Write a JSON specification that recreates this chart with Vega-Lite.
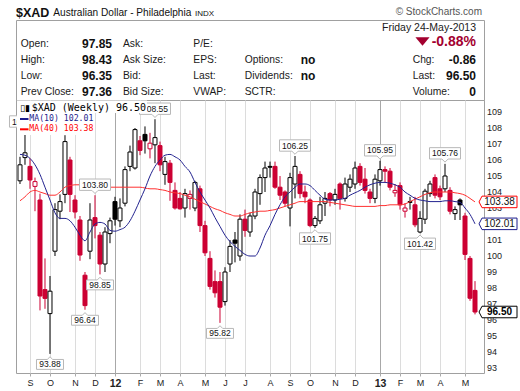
{
  "$schema": "https://vega.github.io/schema/vega-lite/v6.json",
  "autosize": {"type": "pad"},
  "padding": {"left": 6, "top": 0, "right": 0, "bottom": 0},
  "background": "white",
  "spacing": 0,
  "bounds": "flush",
  "config": {"view": {"stroke": "#a0a0a0"}, "font": "Liberation Sans", "axis": {"labelFont": "Liberation Sans"}},
  "datasets": {
    "xad": [
      {"date":"2011-08-22","open":104.7,"high":106.2,"low":104.5,"close":105.7,"ma10":106.35,"ma40":103.45},
      {"date":"2011-08-29","open":106.15,"high":107.75,"low":105.7,"close":106.45,"ma10":106.3,"ma40":103.7},
      {"date":"2011-09-05","open":105.6,"high":106.1,"low":104.2,"close":104.75,"ma10":106.1,"ma40":104.0},
      {"date":"2011-09-12","open":104.35,"high":104.9,"low":102.8,"close":104.65,"ma10":105.7,"ma40":104.1},
      {"date":"2011-09-19","open":103.5,"high":103.9,"low":96.6,"close":97.5,"ma10":105.1,"ma40":104.0},
      {"date":"2011-09-26","open":97.9,"high":99.85,"low":96.7,"close":97.35,"ma10":104.3,"ma40":103.9},
      {"date":"2011-10-03","open":96.4,"high":98.75,"low":93.88,"close":97.8,"ma10":103.5,"ma40":103.8},
      {"date":"2011-10-10","open":100.3,"high":103.3,"low":100.0,"close":102.9,"ma10":102.7,"ma40":103.8},
      {"date":"2011-10-17","open":102.8,"high":103.85,"low":102.3,"close":103.4,"ma10":102.35,"ma40":104.0},
      {"date":"2011-10-24","open":103.85,"high":107.55,"low":103.3,"close":107.15,"ma10":102.35,"ma40":104.3},
      {"date":"2011-10-31","open":106.0,"high":106.2,"low":102.75,"close":103.85,"ma10":102.2,"ma40":104.4},
      {"date":"2011-11-07","open":103.5,"high":103.8,"low":102.35,"close":102.75,"ma10":101.8,"ma40":104.45},
      {"date":"2011-11-14","open":102.25,"high":102.5,"low":99.7,"close":100.06,"ma10":101.3,"ma40":104.45},
      {"date":"2011-11-21","open":98.8,"high":99.0,"low":96.64,"close":96.9,"ma10":100.95,"ma40":104.4},
      {"date":"2011-11-28","open":100.3,"high":103.3,"low":99.8,"close":102.25,"ma10":101.5,"ma40":104.4},
      {"date":"2011-12-05","open":102.4,"high":103.8,"low":101.1,"close":101.9,"ma10":102.0,"ma40":104.35},
      {"date":"2011-12-12","open":101.3,"high":101.5,"low":98.85,"close":99.5,"ma10":102.1,"ma40":104.3},
      {"date":"2011-12-19","open":99.5,"high":101.8,"low":99.0,"close":101.5,"ma10":102.0,"ma40":104.3},
      {"date":"2011-12-26","open":101.4,"high":102.4,"low":100.8,"close":102.2,"ma10":101.6,"ma40":104.3},
      {"date":"2012-01-02","open":103.4,"high":103.7,"low":101.9,"close":102.3,"ma10":101.55,"ma40":104.3},
      {"date":"2012-01-09","open":102.2,"high":103.6,"low":101.8,"close":103.0,"ma10":101.65,"ma40":104.3},
      {"date":"2012-01-16","open":103.3,"high":105.6,"low":103.1,"close":105.4,"ma10":101.8,"ma40":104.3},
      {"date":"2012-01-23","open":105.6,"high":106.9,"low":105.3,"close":106.5,"ma10":102.2,"ma40":104.3},
      {"date":"2012-01-30","open":105.5,"high":108.0,"low":105.4,"close":107.9,"ma10":102.8,"ma40":104.3},
      {"date":"2012-02-06","open":107.2,"high":107.5,"low":106.3,"close":106.6,"ma10":103.5,"ma40":104.3},
      {"date":"2012-02-13","open":107.6,"high":108.1,"low":106.4,"close":107.2,"ma10":104.2,"ma40":104.25},
      {"date":"2012-02-20","open":106.7,"high":107.7,"low":106.1,"close":107.05,"ma10":105.0,"ma40":104.2},
      {"date":"2012-02-27","open":106.95,"high":108.55,"low":105.8,"close":107.4,"ma10":105.6,"ma40":104.2},
      {"date":"2012-03-05","open":106.9,"high":107.15,"low":105.3,"close":105.7,"ma10":106.0,"ma40":104.15},
      {"date":"2012-03-12","open":105.1,"high":106.2,"low":104.45,"close":105.9,"ma10":106.3,"ma40":104.1},
      {"date":"2012-03-19","open":105.8,"high":106.0,"low":103.45,"close":104.6,"ma10":106.35,"ma40":104.0},
      {"date":"2012-03-26","open":104.1,"high":104.6,"low":102.9,"close":103.0,"ma10":106.2,"ma40":103.95},
      {"date":"2012-04-02","open":103.6,"high":104.0,"low":102.9,"close":102.95,"ma10":106.0,"ma40":103.9},
      {"date":"2012-04-09","open":103.0,"high":104.2,"low":102.4,"close":103.9,"ma10":105.6,"ma40":103.8},
      {"date":"2012-04-16","open":103.6,"high":104.1,"low":102.9,"close":103.85,"ma10":105.25,"ma40":103.7},
      {"date":"2012-04-23","open":103.0,"high":104.7,"low":102.8,"close":104.6,"ma10":104.6,"ma40":103.55},
      {"date":"2012-04-30","open":104.2,"high":104.4,"low":101.5,"close":101.9,"ma10":104.0,"ma40":103.4},
      {"date":"2012-05-07","open":101.9,"high":102.2,"low":100.0,"close":100.2,"ma10":103.5,"ma40":103.25},
      {"date":"2012-05-14","open":99.85,"high":100.3,"low":97.9,"close":98.1,"ma10":103.0,"ma40":103.1},
      {"date":"2012-05-21","open":98.4,"high":99.1,"low":97.4,"close":97.7,"ma10":102.4,"ma40":102.95},
      {"date":"2012-05-28","open":98.4,"high":99.0,"low":95.82,"close":96.8,"ma10":101.85,"ma40":102.85},
      {"date":"2012-06-04","open":97.15,"high":99.3,"low":96.9,"close":99.0,"ma10":101.3,"ma40":102.7},
      {"date":"2012-06-11","open":99.5,"high":101.0,"low":99.0,"close":100.6,"ma10":100.9,"ma40":102.6},
      {"date":"2012-06-18","open":101.0,"high":101.5,"low":99.6,"close":100.8,"ma10":100.6,"ma40":102.5},
      {"date":"2012-06-25","open":100.0,"high":102.6,"low":99.7,"close":102.3,"ma10":100.35,"ma40":102.5},
      {"date":"2012-07-02","open":102.3,"high":102.9,"low":101.2,"close":101.6,"ma10":100.1,"ma40":102.6},
      {"date":"2012-07-09","open":101.5,"high":102.7,"low":101.2,"close":102.5,"ma10":100.0,"ma40":102.7},
      {"date":"2012-07-16","open":102.5,"high":104.2,"low":102.3,"close":104.0,"ma10":100.0,"ma40":102.75},
      {"date":"2012-07-23","open":103.9,"high":105.1,"low":103.2,"close":104.9,"ma10":100.5,"ma40":102.8},
      {"date":"2012-07-30","open":104.9,"high":105.9,"low":104.0,"close":105.5,"ma10":101.3,"ma40":102.8},
      {"date":"2012-08-06","open":105.6,"high":105.9,"low":104.9,"close":105.55,"ma10":101.9,"ma40":102.85},
      {"date":"2012-08-13","open":105.6,"high":105.9,"low":104.2,"close":104.3,"ma10":102.6,"ma40":102.9},
      {"date":"2012-08-20","open":104.3,"high":105.0,"low":103.5,"close":103.8,"ma10":103.2,"ma40":103.0},
      {"date":"2012-08-27","open":104.0,"high":104.1,"low":103.1,"close":103.3,"ma10":103.7,"ma40":103.1},
      {"date":"2012-09-03","open":103.0,"high":105.2,"low":101.85,"close":104.9,"ma10":104.0,"ma40":103.2},
      {"date":"2012-09-10","open":104.5,"high":106.25,"low":103.6,"close":105.6,"ma10":104.3,"ma40":103.3},
      {"date":"2012-09-17","open":105.1,"high":105.3,"low":103.6,"close":103.9,"ma10":104.5,"ma40":103.4},
      {"date":"2012-09-24","open":104.0,"high":104.4,"low":103.3,"close":103.7,"ma10":104.5,"ma40":103.4},
      {"date":"2012-10-01","open":103.5,"high":103.6,"low":101.8,"close":101.9,"ma10":104.4,"ma40":103.4},
      {"date":"2012-10-08","open":101.9,"high":102.5,"low":101.75,"close":102.35,"ma10":104.1,"ma40":103.4},
      {"date":"2012-10-15","open":102.2,"high":103.7,"low":102.0,"close":103.2,"ma10":103.8,"ma40":103.4},
      {"date":"2012-10-22","open":103.3,"high":104.0,"low":102.5,"close":103.6,"ma10":103.55,"ma40":103.4},
      {"date":"2012-10-29","open":103.9,"high":104.0,"low":103.1,"close":103.5,"ma10":103.5,"ma40":103.35},
      {"date":"2012-11-05","open":103.5,"high":104.2,"low":103.2,"close":103.85,"ma10":103.5,"ma40":103.3},
      {"date":"2012-11-12","open":104.5,"high":104.6,"low":102.9,"close":103.6,"ma10":103.55,"ma40":103.25},
      {"date":"2012-11-19","open":103.6,"high":104.9,"low":103.4,"close":104.5,"ma10":103.6,"ma40":103.2},
      {"date":"2012-11-26","open":104.3,"high":105.1,"low":104.0,"close":104.8,"ma10":103.8,"ma40":103.15},
      {"date":"2012-12-03","open":104.5,"high":105.9,"low":104.2,"close":105.5,"ma10":103.95,"ma40":103.1},
      {"date":"2012-12-10","open":105.6,"high":105.8,"low":104.4,"close":104.6,"ma10":104.1,"ma40":103.1},
      {"date":"2012-12-17","open":104.8,"high":105.5,"low":103.9,"close":104.1,"ma10":104.3,"ma40":103.1},
      {"date":"2012-12-24","open":104.0,"high":104.2,"low":103.3,"close":103.6,"ma10":104.45,"ma40":103.1},
      {"date":"2012-12-31","open":103.6,"high":105.1,"low":103.3,"close":104.8,"ma10":104.55,"ma40":103.1},
      {"date":"2013-01-07","open":104.7,"high":105.95,"low":104.4,"close":105.4,"ma10":104.6,"ma40":103.15},
      {"date":"2013-01-14","open":105.4,"high":105.6,"low":104.6,"close":105.3,"ma10":104.6,"ma40":103.15},
      {"date":"2013-01-21","open":105.3,"high":105.5,"low":104.1,"close":104.3,"ma10":104.55,"ma40":103.2},
      {"date":"2013-01-28","open":103.95,"high":104.5,"low":103.7,"close":104.1,"ma10":104.45,"ma40":103.2},
      {"date":"2013-02-04","open":104.4,"high":104.6,"low":102.9,"close":103.2,"ma10":104.3,"ma40":103.2},
      {"date":"2013-02-11","open":102.8,"high":103.3,"low":102.4,"close":103.0,"ma10":104.0,"ma40":103.25},
      {"date":"2013-02-18","open":103.4,"high":103.7,"low":102.9,"close":103.35,"ma10":103.8,"ma40":103.4},
      {"date":"2013-02-25","open":103.2,"high":103.7,"low":101.8,"close":101.95,"ma10":103.6,"ma40":103.55},
      {"date":"2013-03-04","open":101.5,"high":102.8,"low":101.42,"close":102.35,"ma10":103.5,"ma40":103.7},
      {"date":"2013-03-11","open":102.3,"high":104.2,"low":102.0,"close":104.05,"ma10":103.45,"ma40":103.85},
      {"date":"2013-03-18","open":103.9,"high":104.7,"low":103.7,"close":104.5,"ma10":103.4,"ma40":103.95},
      {"date":"2013-03-25","open":104.9,"high":105.1,"low":103.6,"close":103.8,"ma10":103.4,"ma40":104.0},
      {"date":"2013-04-01","open":104.2,"high":104.4,"low":103.5,"close":103.7,"ma10":103.4,"ma40":104.0},
      {"date":"2013-04-08","open":104.2,"high":105.76,"low":104.0,"close":105.0,"ma10":103.45,"ma40":104.0},
      {"date":"2013-04-15","open":104.1,"high":104.3,"low":102.6,"close":102.8,"ma10":103.45,"ma40":104.0},
      {"date":"2013-04-22","open":102.65,"high":103.1,"low":102.25,"close":102.9,"ma10":103.4,"ma40":103.95},
      {"date":"2013-04-29","open":103.5,"high":103.6,"low":102.25,"close":103.2,"ma10":103.35,"ma40":103.9},
      {"date":"2013-05-06","open":102.5,"high":102.7,"low":99.75,"close":100.1,"ma10":103.0,"ma40":103.8},
      {"date":"2013-05-13","open":99.85,"high":100.0,"low":97.2,"close":97.36,"ma10":102.6,"ma40":103.6},
      {"date":"2013-05-20","open":97.85,"high":98.43,"low":96.35,"close":96.5,"ma10":102.01,"ma40":103.38}
    ],
    "swing": [
      {"date":"2011-08-29","value":107.75,"text":"107.75","kind":"high"},
      {"date":"2011-12-05","value":103.8,"text":"103.80","kind":"high"},
      {"date":"2012-02-27","value":108.55,"text":"108.55","kind":"high"},
      {"date":"2012-09-10","value":106.25,"text":"106.25","kind":"high"},
      {"date":"2013-01-07","value":105.95,"text":"105.95","kind":"high"},
      {"date":"2013-04-08","value":105.76,"text":"105.76","kind":"high"},
      {"date":"2011-10-03","value":93.88,"text":"93.88","kind":"low"},
      {"date":"2011-11-21","value":96.64,"text":"96.64","kind":"low"},
      {"date":"2011-12-12","value":98.85,"text":"98.85","kind":"low"},
      {"date":"2012-05-28","value":95.82,"text":"95.82","kind":"low"},
      {"date":"2012-10-08","value":101.75,"text":"101.75","kind":"low"},
      {"date":"2013-03-04","value":101.42,"text":"101.42","kind":"low"}
    ],
    "tags": [
      {"date":"2013-05-20","value":103.38,"text":"103.38","series":"MA(40)"},
      {"date":"2013-05-20","value":102.01,"text":"102.01","series":"MA(10)"},
      {"date":"2013-05-20","value":96.5,"text":"96.50","series":"XAD"}
    ],
    "yticks": [{"v":93},{"v":94},{"v":95},{"v":96},{"v":97},{"v":98},{"v":99},{"v":100},{"v":101},{"v":102},{"v":103},{"v":104},{"v":105},{"v":106},{"v":107},{"v":108},{"v":109}]
  },
  "vconcat": [
    {
      "width": 468,
      "height": 20,
      "view": {"stroke": null},
      "layer": [
        {"data": {"values": [{"t":"$XAD"}]}, "mark": {"type":"text","align":"left","fontSize":12.5,"fontWeight":"bold","color":"#111111"}, "encoding": {"x": {"value": 0}, "y": {"value": 13}, "text": {"field":"t"}}},
        {"data": {"values": [{"t":"Australian Dollar - Philadelphia"}]}, "mark": {"type":"text","align":"left","fontSize":10.1,"color":"#111111"}, "encoding": {"x": {"value": 37.3}, "y": {"value": 13}, "text": {"field":"t"}}},
        {"data": {"values": [{"t":"INDX"}]}, "mark": {"type":"text","align":"left","fontSize":8,"color":"#111111"}, "encoding": {"x": {"value": 179}, "y": {"value": 13.5}, "text": {"field":"t"}}},
        {"data": {"values": [{"t":"© StockCharts.com"}]}, "mark": {"type":"text","align":"right","fontSize":10,"color":"#555555"}, "encoding": {"x": {"value": 466}, "y": {"value": 12}, "text": {"field":"t"}}}
      ]
    },
    {
      "width": 468,
      "height": 80,
      "layer": [
        {"data": {"values": [{"t":"Open:","line":"r1"},{"t":"High:","line":"r2"},{"t":"Low:","line":"r3"},{"t":"Prev Close:","line":"r4"}]},
         "mark": {"type":"text","align":"left","fontSize":10.3,"color":"#1a1a1a"},
         "encoding": {"x": {"value": 4.7}, "y": {"field":"line","type":"ordinal","scale":{"domain":["r0","r1","r2","r3","r4"]},"axis":null}, "text": {"field":"t"}}},
        {"data": {"values": [{"t":"97.85","line":"r1"},{"t":"98.43","line":"r2"},{"t":"96.35","line":"r3"},{"t":"97.36","line":"r4"}]},
         "mark": {"type":"text","align":"right","fontSize":12,"fontWeight":"bold","color":"#111111"},
         "encoding": {"x": {"value": 96}, "y": {"field":"line","type":"ordinal","scale":{"domain":["r0","r1","r2","r3","r4"]},"axis":null}, "text": {"field":"t"}}},
        {"data": {"values": [{"t":"Ask:","line":"r1"},{"t":"Ask Size:","line":"r2"},{"t":"Bid:","line":"r3"},{"t":"Bid Size:","line":"r4"}]},
         "mark": {"type":"text","align":"left","fontSize":10.3,"color":"#1a1a1a"},
         "encoding": {"x": {"value": 107}, "y": {"field":"line","type":"ordinal","scale":{"domain":["r0","r1","r2","r3","r4"]},"axis":null}, "text": {"field":"t"}}},
        {"data": {"values": [{"t":"P/E:","line":"r1"},{"t":"EPS:","line":"r2"},{"t":"Last:","line":"r3"},{"t":"VWAP:","line":"r4"}]},
         "mark": {"type":"text","align":"left","fontSize":10.3,"color":"#1a1a1a"},
         "encoding": {"x": {"value": 177.3}, "y": {"field":"line","type":"ordinal","scale":{"domain":["r0","r1","r2","r3","r4"]},"axis":null}, "text": {"field":"t"}}},
        {"data": {"values": [{"t":"Options:","line":"r2"},{"t":"Dividends:","line":"r3"},{"t":"SCTR:","line":"r4"}]},
         "mark": {"type":"text","align":"left","fontSize":10.3,"color":"#1a1a1a"},
         "encoding": {"x": {"value": 228.7}, "y": {"field":"line","type":"ordinal","scale":{"domain":["r0","r1","r2","r3","r4"]},"axis":null}, "text": {"field":"t"}}},
        {"data": {"values": [{"t":"no","line":"r2"},{"t":"no","line":"r3"}]},
         "mark": {"type":"text","align":"left","fontSize":12,"fontWeight":"bold","color":"#111111"},
         "encoding": {"x": {"value": 284.7}, "y": {"field":"line","type":"ordinal","scale":{"domain":["r0","r1","r2","r3","r4"]},"axis":null}, "text": {"field":"t"}}},
        {"data": {"values": [{"t":"Chg:","line":"r2"},{"t":"Last:","line":"r3"},{"t":"Volume:","line":"r4"}]},
         "mark": {"type":"text","align":"left","fontSize":10.3,"color":"#1a1a1a"},
         "encoding": {"x": {"value": 396.7}, "y": {"field":"line","type":"ordinal","scale":{"domain":["r0","r1","r2","r3","r4"]},"axis":null}, "text": {"field":"t"}}},
        {"data": {"values": [{"t":"-0.86","line":"r2"},{"t":"96.50","line":"r3"},{"t":"0","line":"r4"}]},
         "mark": {"type":"text","align":"right","fontSize":12,"fontWeight":"bold","color":"#111111"},
         "encoding": {"x": {"value": 460}, "y": {"field":"line","type":"ordinal","scale":{"domain":["r0","r1","r2","r3","r4"]},"axis":null}, "text": {"field":"t"}}},
        {"data": {"values": [{"t":"Friday  24-May-2013","line":"r0"}]},
         "mark": {"type":"text","align":"right","fontSize":10.5,"color":"#1a1a1a"},
         "encoding": {"x": {"value": 460}, "y": {"field":"line","type":"ordinal","scale":{"domain":["r0","r1","r2","r3","r4"]},"axis":null}, "text": {"field":"t"}}},
        {"data": {"values": [{"t":"-0.88%","line":"r1"}]},
         "mark": {"type":"text","align":"right","fontSize":14,"fontWeight":"bold","color":"#a3002f","yOffset":-2},
         "encoding": {"x": {"value": 460}, "y": {"field":"line","type":"ordinal","scale":{"domain":["r0","r1","r2","r3","r4"]},"axis":null}, "text": {"field":"t"}}},
        {"data": {"values": [{"t":"down","line":"r1"}]},
         "mark": {"type":"point","shape":"M-1,-0.6L1,-0.6L0,0.6Z","filled":true,"fill":"#a3002f","strokeWidth":0,"opacity":1,"size":200,"yOffset":-2.5},
         "encoding": {"x": {"value": 406.5}, "y": {"field":"line","type":"ordinal","scale":{"domain":["r0","r1","r2","r3","r4"]},"axis":null}}}
      ]
    },
    {
      "width": 468,
      "height": 273,
      "data": {"name": "xad"},
      "transform": [{"window": [{"op": "lag", "field": "close", "as": "prev"}], "sort": [{"field": "date"}]}],
      "encoding": {
        "x": {"field": "date", "type": "temporal",
          "scale": {"type": "utc", "padding": 0, "domain": [{"year":2011,"month":8,"date":16,"hours":10,"utc":true},{"year":2013,"month":6,"date":1,"hours":14,"utc":true}]},
          "axis": {"orient": "bottom", "title": null,
            "values": [
              {"year":2011,"month":9,"date":5,"utc":true},{"year":2011,"month":10,"date":3,"utc":true},{"year":2011,"month":11,"date":7,"utc":true},{"year":2011,"month":12,"date":5,"utc":true},
              {"year":2012,"month":1,"date":2,"utc":true},{"year":2012,"month":2,"date":6,"utc":true},{"year":2012,"month":3,"date":5,"utc":true},{"year":2012,"month":4,"date":2,"utc":true},
              {"year":2012,"month":5,"date":7,"utc":true},{"year":2012,"month":6,"date":4,"utc":true},{"year":2012,"month":7,"date":2,"utc":true},{"year":2012,"month":8,"date":6,"utc":true},
              {"year":2012,"month":9,"date":3,"utc":true},{"year":2012,"month":10,"date":1,"utc":true},{"year":2012,"month":11,"date":5,"utc":true},{"year":2012,"month":12,"date":3,"utc":true},
              {"year":2013,"month":1,"date":7,"utc":true},{"year":2013,"month":2,"date":4,"utc":true},{"year":2013,"month":3,"date":4,"utc":true},{"year":2013,"month":4,"date":1,"utc":true},
              {"year":2013,"month":5,"date":6,"utc":true}
            ],
            "labelExpr": "utcmonth(datum.value) == 0 ? utcFormat(datum.value, '%y') : slice(utcFormat(datum.value, '%b'), 0, 1)",
            "grid": true,
            "gridColor": {"condition": {"test": "utcmonth(datum.value) == 0", "value": "#a8a8a8"}, "value": "#dcdcdc"},
            "domain": false, "tickSize": 3, "tickColor": "#aaaaaa",
            "labelFontSize": {"condition": {"test": "utcmonth(datum.value) == 0", "value": 10.5}, "value": 9},
            "labelFontWeight": {"condition": {"test": "utcmonth(datum.value) == 0", "value": "bold"}, "value": "normal"},
            "labelColor": "#222222", "labelPadding": 2, "labelOverlap": false, "labelFlush": false}
        },
        "y": {"field": "low", "type": "quantitative", "scale": {"domain": [92.6875, 109.75], "nice": false, "zero": false, "padding": 0},
          "axis": {"orient": "right", "title": null, "values": [93,94,95,96,97,98,99,100,101,102,103,104,105,106,107,108,109], "grid": true, "gridColor": "#dcdcdc", "domain": false, "ticks": true, "tickSize": 3, "tickColor": "#aaaaaa", "labels": false}}
      },
      "layer": [
        {
          "mark": {"type": "rule", "strokeWidth": 1},
          "encoding": {
            "y2": {"field": "high"},
            "stroke": {"condition": {"test": "datum.prev != null && datum.close < datum.prev", "value": "#cc0033"}, "value": "#000000"}
          }
        },
        {
          "mark": {"type": "bar", "width": 4, "strokeWidth": 1},
          "encoding": {
            "y": {"field": "open", "type": "quantitative", "scale": {"domain": [92.6875, 109.75], "nice": false, "zero": false, "padding": 0}, "axis": null},
            "y2": {"field": "close"},
            "fill": {"condition": [{"test": "datum.close > datum.open", "value": "#ffffff"}, {"test": "datum.prev != null && datum.close < datum.prev", "value": "#cc0033"}], "value": "#000000"},
            "stroke": {"condition": {"test": "datum.prev != null && datum.close < datum.prev", "value": "#cc0033"}, "value": "#000000"}
          }
        },
        {
          "mark": {"type": "line", "stroke": "#ff3030", "strokeWidth": 1, "interpolate": "monotone"},
          "encoding": {"y": {"field": "ma40", "type": "quantitative", "scale": {"domain": [92.6875, 109.75], "nice": false, "zero": false, "padding": 0}, "axis": null}}
        },
        {
          "mark": {"type": "line", "stroke": "#22228f", "strokeWidth": 1, "interpolate": "monotone"},
          "encoding": {"y": {"field": "ma10", "type": "quantitative", "scale": {"domain": [92.6875, 109.75], "nice": false, "zero": false, "padding": 0}, "axis": null}}
        },
        {
          "data": {"name": "yticks"},
          "mark": {"type": "text", "align": "left", "dx": 3, "fontSize": 9, "color": "#222222"},
          "encoding": {
            "x": {"value": "width"},
            "y": {"field": "v", "type": "quantitative", "scale": {"domain": [92.6875, 109.75], "nice": false, "zero": false, "padding": 0}, "axis": null},
            "text": {"field": "v", "type": "quantitative"}
          }
        },
        {
          "data": {"name": "swing"},
          "transform": [{"filter": "datum.kind == 'high'"}],
          "mark": {"type": "point", "shape": "M-1,-0.367L1,-0.367L1,0.367L0.2,0.367L0,0.567L-0.2,0.367L-1,0.367Z", "filled": true, "fill": "#ffffff", "stroke": "#b8b8b8", "strokeWidth": 1, "opacity": 1, "yOffset": -10.5},
          "encoding": {
            "y": {"field": "value", "type": "quantitative", "scale": {"domain": [92.6875, 109.75], "nice": false, "zero": false, "padding": 0}, "axis": null},
            "size": {"condition": {"test": "length(datum.text) < 6", "value": 729}, "value": 961}
          }
        },
        {
          "data": {"name": "swing"},
          "transform": [{"filter": "datum.kind == 'low'"}],
          "mark": {"type": "point", "shape": "M-1,0.367L1,0.367L1,-0.367L0.2,-0.367L0,-0.567L-0.2,-0.367L-1,-0.367Z", "filled": true, "fill": "#ffffff", "stroke": "#b8b8b8", "strokeWidth": 1, "opacity": 1, "yOffset": 10.5},
          "encoding": {
            "y": {"field": "value", "type": "quantitative", "scale": {"domain": [92.6875, 109.75], "nice": false, "zero": false, "padding": 0}, "axis": null},
            "size": {"condition": {"test": "length(datum.text) < 6", "value": 729}, "value": 961}
          }
        },
        {
          "data": {"name": "swing"},
          "transform": [{"filter": "datum.kind == 'high'"}],
          "mark": {"type": "text", "fontSize": 8.5, "color": "#111111", "yOffset": -10.5},
          "encoding": {
            "y": {"field": "value", "type": "quantitative", "scale": {"domain": [92.6875, 109.75], "nice": false, "zero": false, "padding": 0}, "axis": null},
            "text": {"field": "text"}
          }
        },
        {
          "data": {"name": "swing"},
          "transform": [{"filter": "datum.kind == 'low'"}],
          "mark": {"type": "text", "fontSize": 8.5, "color": "#111111", "yOffset": 10.5},
          "encoding": {
            "y": {"field": "value", "type": "quantitative", "scale": {"domain": [92.6875, 109.75], "nice": false, "zero": false, "padding": 0}, "axis": null},
            "text": {"field": "text"}
          }
        },
        {
          "data": {"name": "tags"},
          "mark": {"type": "point", "shape": "M-1.17,0L-1,-0.33L1,-0.33L1,0.33L-1,0.33Z", "filled": true, "fill": "#ffffff", "strokeWidth": 1, "opacity": 1, "size": 1225, "xOffset": 24.5},
          "encoding": {
            "y": {"field": "value", "type": "quantitative", "scale": {"domain": [92.6875, 109.75], "nice": false, "zero": false, "padding": 0}, "axis": null},
            "stroke": {"field": "series", "type": "nominal", "scale": {"domain": ["XAD", "MA(10)", "MA(40)"], "range": ["#000000", "#1c1c8c", "#ff0000"]}, "legend": null}
          }
        },
        {
          "data": {"name": "tags"},
          "transform": [{"filter": "datum.series != 'XAD'"}],
          "mark": {"type": "text", "fontSize": 10, "color": "#111111", "xOffset": 24.5},
          "encoding": {
            "y": {"field": "value", "type": "quantitative", "scale": {"domain": [92.6875, 109.75], "nice": false, "zero": false, "padding": 0}, "axis": null},
            "text": {"field": "text"}
          }
        },
        {
          "data": {"name": "tags"},
          "transform": [{"filter": "datum.series == 'XAD'"}],
          "mark": {"type": "text", "fontSize": 10, "fontWeight": "bold", "color": "#000000", "xOffset": 24.5},
          "encoding": {
            "y": {"field": "value", "type": "quantitative", "scale": {"domain": [92.6875, 109.75], "nice": false, "zero": false, "padding": 0}, "axis": null},
            "text": {"field": "text"}
          }
        },
        {
          "data": {"values": [{"part": "bg1"}]},
          "mark": {"type": "rect", "fill": "#ffffff", "strokeWidth": 0},
          "encoding": {"x": {"value": 1}, "x2": {"value": 131}, "y": {"value": 0.5}, "y2": {"value": 13}}
        },
        {
          "data": {"values": [{"part": "bg2"}]},
          "mark": {"type": "rect", "fill": "#ffffff", "strokeWidth": 0},
          "encoding": {"x": {"value": 1}, "x2": {"value": 78}, "y": {"value": 13}, "y2": {"value": 35}}
        },
        {
          "data": {"values": [{"t": "$XAD (Weekly) 96.50"}]},
          "mark": {"type": "text", "align": "left", "font": "DejaVu Sans Mono", "fontSize": 10, "color": "#000000"},
          "encoding": {"x": {"value": 15.7}, "y": {"value": 7.5}, "text": {"field": "t"}}
        },
        {
          "data": {"values": [{"t": "MA(10) 102.01"}]},
          "mark": {"type": "text", "align": "left", "font": "DejaVu Sans Mono", "fontSize": 8.2, "color": "#1c1c8c"},
          "encoding": {"x": {"value": 13.3}, "y": {"value": 19}, "text": {"field": "t"}}
        },
        {
          "data": {"values": [{"t": "MA(40) 103.38"}]},
          "mark": {"type": "text", "align": "left", "font": "DejaVu Sans Mono", "fontSize": 8.2, "color": "#ff0000"},
          "encoding": {"x": {"value": 13.3}, "y": {"value": 29.3}, "text": {"field": "t"}}
        },
        {
          "data": {"values": [{"s": "MA(10)"}]},
          "mark": {"type": "rule", "strokeWidth": 2, "stroke": "#1c1c8c"},
          "encoding": {"x": {"value": 4}, "x2": {"value": 12.5}, "y": {"value": 19}}
        },
        {
          "data": {"values": [{"s": "MA(40)"}]},
          "mark": {"type": "rule", "strokeWidth": 2, "stroke": "#ff0000"},
          "encoding": {"x": {"value": 4}, "x2": {"value": 12.5}, "y": {"value": 29.3}}
        },
        {
          "data": {"values": [{"s": "icon"}]},
          "mark": {"type": "text", "align": "left", "fontSize": 9, "font": "DejaVu Sans", "color": "#000000"},
          "encoding": {"x": {"value": 4}, "y": {"value": 7.5}, "text": {"value": "▯▮"}}
        }
      ]
    }
  ]
}
